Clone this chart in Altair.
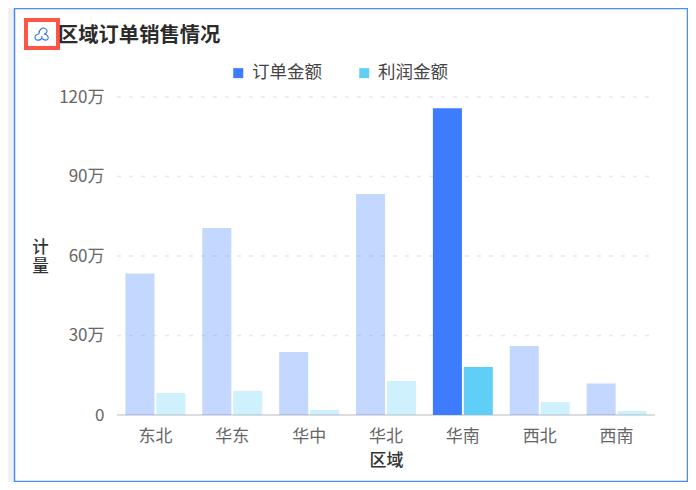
import altair as alt
import pandas as pd

FONT = "Noto Sans CJK SC"
regions = ["东北", "华东", "华中", "华北", "华南", "西北", "西南"]
order_amount = [53.4, 70.6, 23.8, 83.4, 115.8, 26.0, 11.9]
profit_amount = [8.3, 9.1, 1.9, 12.8, 18.1, 4.9, 1.5]
series = ["订单金额", "利润金额"]
colors = ["#3D7BFF", "#5FCFF8"]
y_ticks = [0, 30, 60, 90, 120]
grid_ticks = [30, 60, 90, 120]
base_tick = [0]
highlight = "华南"
chart_title = "区域订单销售情况"

rows = []
for r, a, b in zip(regions, order_amount, profit_amount):
    rows.append({"region": r, "series": series[0], "value": a})
    rows.append({"region": r, "series": series[1], "value": b})
df = pd.DataFrame(rows)

yscale = alt.Scale(domain=[0, 120], nice=False)
yaxis = alt.Axis(
    values=y_ticks, labelExpr="datum.value === 0 ? '0' : datum.value + '万'",
    title=["计", "量"], titleAngle=0, titleFont=FONT, titleFontSize=16.5, titleFontWeight=500,
    titleColor="#333333", titleX=-77, titleY=150, titleBaseline="middle", titleAlign="center",
    titleLineHeight=19,
    labelFont=FONT, labelFontSize=17, labelColor="#666666", labelPadding=13,
    ticks=False, domain=False, grid=False, zindex=1,
)

card = alt.Chart(pd.DataFrame({"k": [0]})).mark_rect(
    fill="#FFFFFF", stroke="#4A8BF5", strokeWidth=1.5
).encode(x=alt.value(-102.5), x2=alt.value(570.5), y=alt.value(-88.5), y2=alt.value(384.5))

grid = alt.Chart(pd.DataFrame({"v": grid_ticks})).mark_rule(
    color="#E8E8E8", strokeDash=[4, 8], strokeWidth=1.5
).encode(x=alt.value(0), x2=alt.value(533), y=alt.Y("v:Q", scale=yscale, axis=yaxis))

base = alt.Chart(pd.DataFrame({"v": base_tick})).mark_rule(
    color="#DDDDDD", strokeWidth=2
).encode(y=alt.Y("v:Q", scale=yscale, axis=yaxis))

bars = alt.Chart(df).mark_bar(strokeWidth=0).encode(
    x=alt.X(
        "region:N", sort=regions,
        scale=alt.Scale(domain=regions, paddingInner=0.22, paddingOuter=0.11),
        axis=alt.Axis(
            title="区域", titleFont=FONT, titleFontSize=17, titleFontWeight=500, titleColor="#333333",
            titleY=45, titleBaseline="middle", titleX=269,
            labelFont=FONT, labelFontSize=17, labelColor="#666666", labelAngle=0,
            labelPadding=13, ticks=False, domain=False, grid=False, zindex=1,
        ),
    ),
    xOffset=alt.XOffset("series:N", sort=series, scale=alt.Scale(domain=series, paddingInner=0.06)),
    y=alt.Y("value:Q", scale=yscale, axis=yaxis),
    color=alt.Color(
        "series:N", sort=series, scale=alt.Scale(domain=series, range=colors),
        legend=alt.Legend(
            title=None, orient="none", direction="horizontal", legendX=112.5, legendY=-33,
            symbolType="square", symbolSize=100, symbolStrokeWidth=0, labelFont=FONT, labelFontSize=17.5,
            labelColor="#444444", labelOffset=5, columnPadding=33, columns=2,
        ),
    ),
    opacity=alt.condition(alt.datum.region == highlight, alt.value(1), alt.value(0.3)),
)

icon_box = alt.Chart(pd.DataFrame({"k": [0]})).mark_rect(
    fill="#FFFFFF", stroke="#FF5544", strokeWidth=4
).encode(x=alt.value(-91), x2=alt.value(-59), y=alt.value(-77), y2=alt.value(-49))

cloud = ("M -0.3 -0.1 C -0.3 -0.6 0.1 -0.8 0.35 -0.6 C 0.6 -0.45 0.5 -0.15 0.2 -0.1 "
         "C 0.7 0 0.75 0.5 0.3 0.5 L -0.05 0.35 M -0.3 -0.1 "
         "C -0.8 -0.05 -0.8 0.55 -0.35 0.5 C -0.1 0.5 0 0.3 0 0.1")
icon = alt.Chart(pd.DataFrame({"k": [0]})).mark_point(
    shape=cloud, stroke="#2F6FF0", strokeWidth=1.1, filled=False, size=420, opacity=1
).encode(x=alt.value(-75), y=alt.value(-62))

chart = alt.layer(card, grid, base, bars, icon_box, icon).properties(
    width=538, height=318,
    padding={"left": 109, "top": 89, "right": 33, "bottom": 67},
    autosize=alt.AutoSizeParams(type="none"),
    background="#EFF1F7",
    title=alt.TitleParams(
        chart_title, anchor="start", frame="group", dx=-59, dy=39, offset=0,
        font=FONT, fontSize=20.3, fontWeight=700, color="#2B2B2B",
    ),
).configure_view(stroke=None)

chart.save("out.html", embed_options={"renderer": "svg", "actions": False})
